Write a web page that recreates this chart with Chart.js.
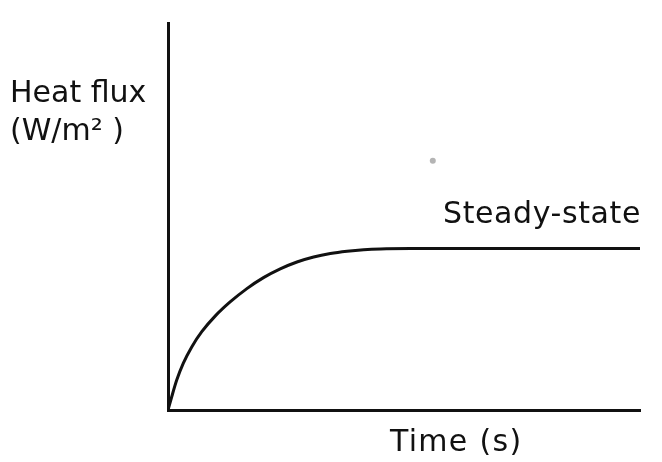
<!DOCTYPE html>
<html>
<head>
<meta charset="utf-8">
<script src="https://cdn.jsdelivr.net/npm/chart.js@4.4.0/dist/chart.umd.min.js"></script>
<style>
    html, body { margin: 0; padding: 0; background: #ffffff; }
    #wrap { width: 662px; height: 462px; }
</style>
</head>
<body>
<div id="wrap"><canvas id="myChart" width="662" height="462"></canvas></div>
<script>
// curve (time and flux in arbitrary units, 0-100)
const timeValues = [0, 0.79, 1.85, 3.25, 5.03, 7.16, 9.98, 13.16, 16.71, 20.23, 23.78, 27.32, 30.85, 34.39, 37.94, 41.46, 45.01, 51.38, 100];
const fluxValues = [0, 3.43, 7.73, 12.11, 16.31, 20.23, 24.25, 27.91, 31.37, 34.20, 36.47, 38.25, 39.54, 40.44, 41.03, 41.42, 41.62, 41.70, 41.70];

// the stray grey dot
const dotTime = [56.1];
const dotFlux = [64.4];

const yLabel = ["Heat flux", "(W/m\u00b2 )"];
const curveLabel = "Steady-state";
const xLabel = "Time (s)";

const FONT = "30px 'DejaVu Sans', Verdana, sans-serif";

const labelsPlugin = {
    id: "labels",
    afterDraw(chart) {
        const ctx = chart.ctx;
        ctx.save();
        ctx.fillStyle = "#111111";
        ctx.font = FONT;
        ctx.textBaseline = "alphabetic";
        ctx.textAlign = "left";
        ctx.fillText(yLabel[0], 10, 102);
        ctx.fillText(yLabel[1], 10, 140);
        ctx.letterSpacing = "0.6px";
        ctx.fillText(curveLabel, 443, 223);
        ctx.letterSpacing = "1.3px";
        ctx.fillText(xLabel, 390, 451);
        ctx.restore();
    }
};

function toPoints(xs, ys){
    return xs.map((x, i) => ({ x: x, y: ys[i] }));
}

const chart = new Chart("myChart", {
    type: "line",
    data: {
        datasets: [{
            data: toPoints(timeValues, fluxValues),
            borderColor: "#111111",
            borderWidth: 3,
            pointRadius: 0,
            fill: false,
            cubicInterpolationMode: "monotone"
        }, {
            type: "scatter",
            data: toPoints(dotTime, dotFlux),
            pointRadius: 3,
            pointBackgroundColor: "#b4b4b4",
            pointBorderWidth: 0,
            showLine: false
        }]
    },
    options: {
        responsive: false,
        animation: false,
        layout: {
            padding: { left: 160, right: 22, top: 23, bottom: 44 }
        },
        plugins: {
            legend: { display: false },
            tooltip: { enabled: false },
            title: { display: false }
        },
        scales: {
            x: {
                type: "linear",
                min: 0,
                max: 100,
                grid: { display: false },
                ticks: { display: false },
                border: { display: true, color: "#111111", width: 3 }
            },
            y: {
                min: 0,
                max: 100,
                grid: { display: false },
                ticks: { display: false },
                border: { display: true, color: "#111111", width: 3 }
            }
        }
    },
    plugins: [labelsPlugin]
});
</script>
</body>
</html>
